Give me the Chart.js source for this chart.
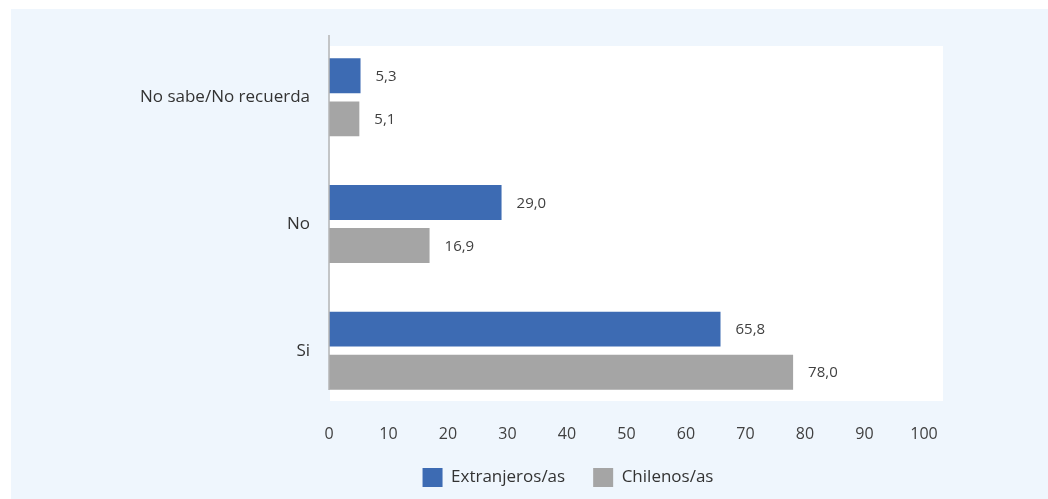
<!DOCTYPE html>
<html>
<head>
<meta charset="utf-8">
<script src="https://cdn.jsdelivr.net/npm/chart.js@4/dist/chart.umd.min.js"></script>
<style>
html,body{margin:0;padding:0;background:#fff;}
canvas{display:block;}
</style>
</head>
<body>
<canvas id="c" width="1048" height="499"></canvas>
<script>
const categories = ["No sabe/No recuerda", "No", "Si"];
const extranjeros = [5.3, 29.0, 65.8];
const chilenos = [5.1, 16.9, 78.0];
const seriesNames = ["Extranjeros/as", "Chilenos/as"];
const xTicks = [0, 10, 20, 30, 40, 50, 60, 70, 80, 90, 100];

const FONT = "'Open Sans', sans-serif";

const bgPlugin = {
  id: 'bg',
  beforeLayout(chart) {
    const lg = chart.legend;
    if (lg && !lg._wrappedFit) {
      const f = lg.fit.bind(lg);
      lg.fit = function () { f(); this.height = 39; };
      lg._wrappedFit = true;
    }
  },
  beforeDraw(chart) {
    const ctx = chart.ctx, a = chart.chartArea;
    ctx.save();
    ctx.fillStyle = '#ffffff';
    ctx.fillRect(0, 0, chart.width, chart.height);
    ctx.fillStyle = '#eff6fd';
    ctx.fillRect(11, 9, chart.width - 11, chart.height - 9);
    ctx.fillStyle = '#ffffff';
    ctx.fillRect(a.left + 1, a.top + 12, a.right + 19 - a.left - 1, a.bottom - 13 - a.top - 12);
    ctx.restore();
  },
  afterDatasetsDraw(chart) {
    const ctx = chart.ctx, a = chart.chartArea;
    ctx.save();
    ctx.strokeStyle = '#b5b5b5';
    ctx.lineWidth = 1.5;
    ctx.beginPath();
    ctx.moveTo(a.left, a.top + 1);
    ctx.lineTo(a.left, a.bottom - 24);
    ctx.stroke();
    // data labels
    ctx.font = "15px " + FONT;
    ctx.fillStyle = '#404040';
    ctx.textBaseline = 'middle';
    ctx.textAlign = 'left';
    chart.data.datasets.forEach((ds, i) => {
      const meta = chart.getDatasetMeta(i);
      meta.data.forEach((bar, j) => {
        const v = ds.data[j];
        ctx.fillText(v.toFixed(1).replace('.', ','), bar.x + 15, bar.y + 1);
      });
    });
    ctx.restore();
  },
  afterLayout(chart) {
    const lg = chart.legend;
    if (lg) {
      const h = lg.bottom - lg.top;
      lg.left += 106; lg.right += 106;
      lg.top = 440; lg.bottom = 440 + 80;
    }
  }
};

new Chart(document.getElementById('c'), {
  type: 'bar',
  data: {
    labels: categories,
    datasets: [
      { label: seriesNames[0], data: extranjeros, backgroundColor: '#3d6bb3', borderWidth: 0 },
      { label: seriesNames[1], data: chilenos, backgroundColor: '#a5a5a5', borderWidth: 0 }
    ]
  },
  options: {
    indexAxis: 'y',
    responsive: false,
    animation: false,
    devicePixelRatio: 1,
    categoryPercentage: 0.68,
    barPercentage: 0.81,
    layout: { padding: { top: 34, right: 124, bottom: 3, left: 0 } },
    plugins: {
      legend: {
        position: 'bottom',
        labels: {
          boxWidth: 20, boxHeight: 19, padding: 28,
          color: '#333333',
          font: { family: FONT, size: 17 }
        }
      },
      tooltip: { enabled: false }
    },
    scales: {
      x: {
        min: 0, max: 100,
        afterBuildTicks(s) { s.ticks = xTicks.map(v => ({ value: v })); },
        afterFit(s) { s.height = 43; },
        grid: { display: false, drawTicks: false },
        border: { display: false },
        ticks: { padding: 11, color: '#404040', font: { family: FONT, size: 16 } }
      },
      y: {
        afterFit(s) { s.width = 329; },
        grid: { display: false, drawTicks: false },
        border: { display: false },
        ticks: { padding: 19, color: '#333333', font: { family: FONT, size: 17 } }
      }
    }
  },
  plugins: [bgPlugin]
});
</script>
</body>
</html>
